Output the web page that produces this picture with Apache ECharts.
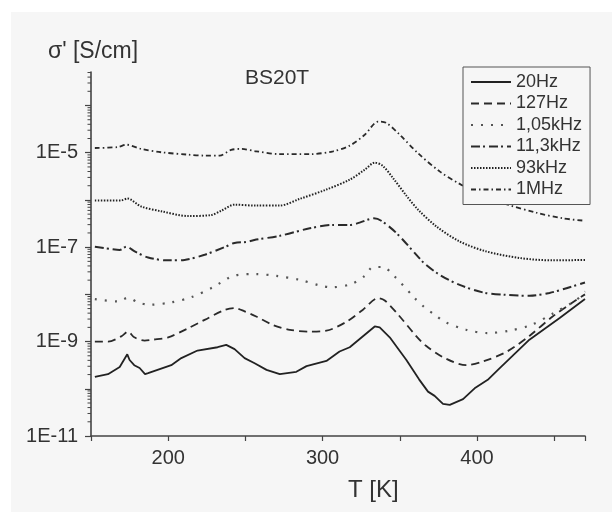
<!DOCTYPE html>
<html>
<head>
<meta charset="utf-8">
<script src="https://cdn.jsdelivr.net/npm/echarts@6/dist/echarts.min.js"></script>
<style>
  html, body { margin: 0; padding: 0; background: #fff; }
  #main { width: 612px; height: 512px; }
</style>
</head>
<body>
<div id="main"></div>
<script>
// temperatures [K] and log10 of sigma' [S/cm]
var t20 = [152.5, 161, 168.6, 169.5, 173.5, 175, 178, 181.5, 185, 187, 202, 208.5, 219, 232, 237.6, 243, 249.5, 256, 263.7, 272.3, 283, 289.6, 302.5, 311, 317.6, 333.8, 337, 343.5, 354.3, 362.5, 368.3, 372.6, 378, 382.4, 391, 398.5, 407, 413.6, 434, 453.6, 470];
var s20 = [-9.75, -9.69, -9.54, -9.56, -9.27, -9.39, -9.50, -9.56, -9.69, -9.67, -9.50, -9.35, -9.19, -9.12, -9.07, -9.16, -9.35, -9.46, -9.60, -9.69, -9.64, -9.52, -9.41, -9.21, -9.12, -8.68, -8.70, -8.91, -9.39, -9.80, -10.06, -10.15, -10.32, -10.34, -10.22, -9.99, -9.81, -9.60, -8.96, -8.50, -8.10];

var t127 = [152.5, 161, 169.6, 174, 178, 184.7, 190, 200, 212.8, 223.6, 236.5, 243, 249.5, 257, 268, 278.8, 291.7, 302.5, 315.5, 326, 336, 340.3, 349, 360.8, 367, 378, 393, 404, 419, 434, 449, 464.3, 470];
var s127 = [-9.00, -9.00, -8.89, -8.79, -8.91, -8.98, -8.96, -8.91, -8.72, -8.54, -8.33, -8.29, -8.36, -8.47, -8.65, -8.75, -8.79, -8.77, -8.58, -8.33, -8.08, -8.13, -8.43, -8.89, -9.09, -9.33, -9.50, -9.42, -9.22, -8.88, -8.47, -8.12, -8.00];

var t1k = [152.5, 167.5, 174, 180.4, 188, 202, 215, 229, 243, 257, 270, 285, 298, 305.8, 318.7, 327.3, 332.7, 339, 346.7, 359.7, 365.5, 372.6, 379, 393, 407, 421, 435, 449, 464.3, 470];
var s1k = [-8.10, -8.15, -8.07, -8.17, -8.22, -8.17, -8.06, -7.85, -7.60, -7.57, -7.61, -7.69, -7.81, -7.85, -7.78, -7.61, -7.42, -7.42, -7.62, -8.08, -8.26, -8.43, -8.58, -8.75, -8.82, -8.77, -8.65, -8.41, -8.12, -7.94];

var t11k = [152.5, 163, 168.6, 172.9, 178.3, 187, 200, 210.6, 223.6, 236.5, 243, 250.5, 257, 272.3, 291.7, 306.8, 317.6, 324, 333.2, 338, 347.8, 361.8, 365.5, 376, 388.8, 404, 419, 434, 447, 458, 470];
var s11k = [-6.99, -7.04, -7.06, -6.99, -7.09, -7.22, -7.28, -7.27, -7.16, -7.00, -6.91, -6.89, -6.84, -6.76, -6.60, -6.53, -6.53, -6.48, -6.39, -6.44, -6.70, -7.20, -7.33, -7.59, -7.80, -7.96, -8.01, -8.03, -7.97, -7.87, -7.75];

var t93k = [152.5, 169.6, 173.5, 182.6, 195.5, 212.8, 227.9, 234.3, 243, 257, 272.3, 285, 302.5, 317.6, 327.3, 333.8, 339, 345.7, 354.3, 362, 373.7, 388.8, 406, 427.7, 449, 470];
var s93k = [-6.01, -6.01, -5.97, -6.14, -6.24, -6.34, -6.32, -6.23, -6.10, -6.12, -6.12, -5.98, -5.78, -5.57, -5.36, -5.21, -5.28, -5.54, -5.91, -6.21, -6.56, -6.88, -7.09, -7.23, -7.28, -7.27];

var t1M = [152.5, 167.5, 172.9, 182.6, 195.5, 212.8, 223.6, 233.3, 240.8, 247.3, 257, 272.3, 291.7, 306.8, 317.6, 327.3, 336, 341.4, 350, 361.8, 376, 388.8, 404, 420, 438.4, 455.7, 470];
var s1M = [-4.90, -4.88, -4.83, -4.92, -4.99, -5.04, -5.06, -5.06, -4.94, -4.92, -4.97, -5.03, -5.03, -4.97, -4.85, -4.62, -4.34, -4.37, -4.62, -5.01, -5.40, -5.66, -5.92, -6.10, -6.27, -6.39, -6.44];

var names = ['20Hz', '127Hz', '1,05kHz', '11,3kHz', '93kHz', '1MHz'];
var yMin = -11, yMax = -3.29;

function zip(a, b) {
    var out = [];
    for (var i = 0; i < a.length; i++) out.push([a[i], b[i]]);
    return out;
}

// minor ticks of the log axis (2..9 x 10^n)
var minorTicks = [];
for (var n = yMin; n < yMax; n++) {
    for (var k = 2; k <= 9; k++) {
        var v = n + Math.log10(k);
        if (v <= yMax) minorTicks.push([150, v]);
    }
}

var FONT = '"Liberation Sans", Arial, sans-serif';
var INK = '#333';

function lineSeries(name, data, type, color, width, smooth) {
    return {
        name: name,
        type: 'line',
        data: data,
        symbol: 'none',
        smooth: smooth,
        z: 3,
        lineStyle: { color: color, width: width, type: type },
        itemStyle: { color: color }
    };
}

var chart = echarts.init(document.getElementById('main'));
chart.setOption({
    animation: false,
    backgroundColor: '#fff',
    graphic: [
        { type: 'rect', left: 11, top: 12, z: -10, silent: true,
          shape: { width: 601, height: 500 }, style: { fill: '#f6f6f6' } },
        { type: 'text', left: 48, top: 40, z: 10,
          style: { text: "σ' [S/cm]", font: '23px ' + FONT, fill: INK } },
        { type: 'text', left: 245, top: 68, z: 10,
          style: { text: 'BS20T', font: '21px ' + FONT, fill: INK } },
        { type: 'text', left: 348, top: 478, z: 10,
          style: { text: 'T [K]', font: '24px ' + FONT, fill: INK } }
    ],
    grid: { left: 91, top: 72, right: 27, bottom: 76 },
    legend: {
        data: names,
        orient: 'vertical',
        left: 463,
        top: 67,
        padding: [6, 8, 6, 7],
        itemGap: 3.5,
        itemWidth: 40,
        itemHeight: 14,
        borderColor: '#555',
        borderWidth: 1,
        borderRadius: 0,
        backgroundColor: '#f6f6f6',
        itemStyle: { opacity: 0 },
        z: 20,
        textStyle: { fontFamily: FONT, fontSize: 18, color: INK, lineHeight: 18 }
    },
    xAxis: {
        type: 'value',
        min: 150,
        max: 470,
        interval: 50,
        axisLine: { show: true, lineStyle: { color: '#444', width: 1.6 } },
        axisTick: { show: true, length: 5, lineStyle: { color: '#444', width: 1.2 } },
        splitLine: { show: false },
        axisLabel: {
            margin: 12,
            fontFamily: FONT, fontSize: 20, color: INK,
            showMinLabel: true,
            formatter: function (v) { return v % 100 === 0 ? String(v) : ''; }
        }
    },
    yAxis: {
        type: 'value',
        min: yMin,
        max: yMax,
        interval: 1,
        axisLine: { show: true, onZero: false, lineStyle: { color: '#444', width: 1.6 } },
        axisTick: { show: true, length: 6, lineStyle: { color: '#444', width: 1.2 } },
        splitLine: { show: false },
        axisLabel: {
            margin: 13,
            fontFamily: FONT, fontSize: 20, color: INK,
            showMaxLabel: false,
            formatter: function (v) {
                var e = Math.round(v);
                return Math.abs(e) % 2 === 1 ? '1E' + e : '';
            }
        }
    },
    series: [
        lineSeries(names[0], zip(t20, s20), 'solid', '#222', 1.8, false),
        lineSeries(names[1], zip(t127, s127), [8, 5], '#2a2a2a', 1.8, 0.3),
        lineSeries(names[2], zip(t1k, s1k), [2, 8], '#555', 2.2, 0.3),
        lineSeries(names[3], zip(t11k, s11k), [9, 3, 2, 4], '#2a2a2a', 2, 0.3),
        lineSeries(names[4], zip(t93k, s93k), [1.5, 1.5], '#222', 2, 0.3),
        lineSeries(names[5], zip(t1M, s1M), [5, 3, 1.5, 3], '#2a2a2a', 1.8, 0.3),
        {
            name: 'minor',
            type: 'custom',
            data: minorTicks,
            silent: true,
            clip: false,
            z: 4,
            renderItem: function (params, api) {
                var p = api.coord([api.value(0), api.value(1)]);
                return {
                    type: 'line',
                    shape: { x1: p[0] - 3.5, y1: p[1], x2: p[0], y2: p[1] },
                    style: { stroke: '#444', lineWidth: 1 }
                };
            }
        }
    ]
});
</script>
</body>
</html>
